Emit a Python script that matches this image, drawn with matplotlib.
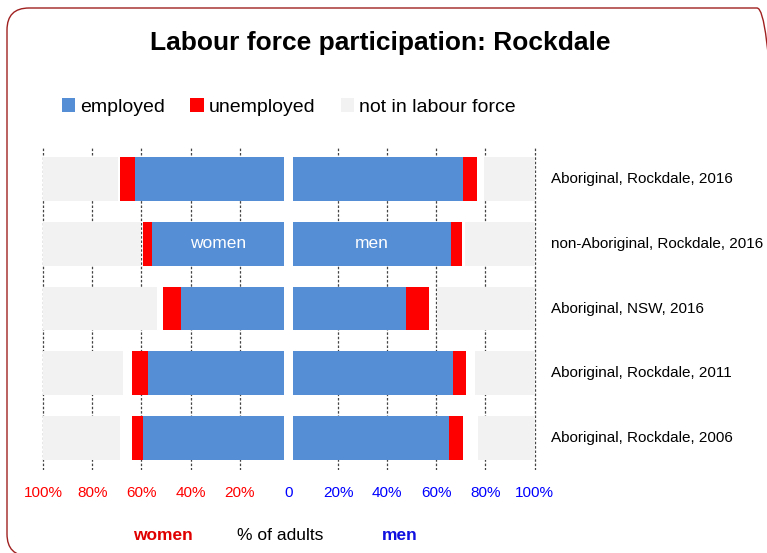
import matplotlib.pyplot as plt
from matplotlib.patches import FancyBboxPatch
from matplotlib.transforms import blended_transform_factory
import numpy as np

plt.rcParams['font.family'] = ['Liberation Sans', 'DejaVu Sans']

categories = ['Aboriginal, Rockdale, 2016', 'non-Aboriginal, Rockdale, 2016',
              'Aboriginal, NSW, 2016', 'Aboriginal, Rockdale, 2011',
              'Aboriginal, Rockdale, 2006']

# % of adults
women_employed = [60.7, 53.8, 42.2, 55.5, 57.5]
women_unemployed = [6.1, 3.6, 7.3, 6.5, 4.5]
women_not_in_lf = [30.4, 39.7, 46.4, 32.4, 31.2]
men_employed = [69.2, 64.0, 46.0, 65.2, 63.2]
men_unemployed = [5.7, 4.5, 9.4, 5.3, 5.7]
men_not_in_lf = [20.6, 28.3, 39.8, 24.3, 23.1]

tick_values = [-100, -80, -60, -40, -20, 0, 20, 40, 60, 80, 100]
tick_labels = ['100%', '80%', '60%', '40%', '20%', '0', '20%', '40%', '60%', '80%', '100%']

BLUE = '#558ED5'
RED = '#FF0000'
GREY = '#F2F2F2'
GAP = 1.8  # gap in the middle

fig = plt.figure(figsize=(7.67, 5.53), dpi=100)
ax = fig.add_axes([42 / 767, 1 - 470 / 553, (537 - 42) / 767, (470 - 147) / 553])

y = np.arange(len(categories))
h = 0.68

we = np.array(women_employed)
wu = np.array(women_unemployed)
wn = np.array(women_not_in_lf)
me = np.array(men_employed)
mu = np.array(men_unemployed)
mn = np.array(men_not_in_lf)

# women to the left
ax.barh(y, -we, left=-GAP, height=h, color=BLUE, zorder=2)
ax.barh(y, -wu, left=-GAP - we, height=h, color=RED, zorder=2)
ax.barh(y, wn, left=-100, height=h, color=GREY, zorder=2)
# men to the right
ax.barh(y, me, left=GAP, height=h, color=BLUE, label='employed', zorder=2)
ax.barh(y, mu, left=GAP + me, height=h, color=RED, label='unemployed', zorder=2)
ax.barh(y, -mn, left=100, height=h, color=GREY, label='not in labour force', zorder=2)

for v in tick_values:
    if v != 0:
        ax.axvline(v, color='#444444', lw=0.9, ls=(0, (2, 1.5)), zorder=1)

ax.set_xlim(-100.5, 101)
ax.set_ylim(len(categories) - 0.5, -0.5)
ax.set_xticks([])
ax.set_yticks([])
for s in ax.spines.values():
    s.set_visible(False)

for v, lab in zip(tick_values, tick_labels):
    ax.text(v, -23 / 323, lab, transform=ax.get_xaxis_transform(),
            ha='center', va='center', fontsize=11,
            color='red' if v < 0 else 'blue')

row_tr = blended_transform_factory(fig.transFigure, ax.transData)
for yi, cat in zip(y, categories):
    ax.text(551 / 767, yi, cat, transform=row_tr, fontsize=11, va='center', ha='left')

ax.text(-GAP - we[1] / 2, 1, 'women', color='white', fontsize=12.5, ha='center', va='center', zorder=3)
ax.text(GAP + me[1] / 2, 1, 'men', color='white', fontsize=12.5, ha='center', va='center', zorder=3)

fig.text(380 / 767, 1 - 43 / 553, 'Labour force participation: Rockdale',
         fontsize=19, fontweight='bold', ha='center', va='center')

fig.legend(loc='center left', bbox_to_anchor=(54 / 767, 1 - 107 / 553), ncol=3,
           frameon=False, fontsize=14, handlelength=0.7, handleheight=0.7,
           handletextpad=0.25, columnspacing=1.3, borderaxespad=0)

fig.text(163 / 767, 1 - 535 / 553, 'women', color='#E00000', fontsize=12.5,
         fontweight='bold', ha='center', va='center')
fig.text(280 / 767, 1 - 535 / 553, '% of adults', color='black', fontsize=12.5,
         ha='center', va='center')
fig.text(400 / 767, 1 - 535 / 553, 'men', color='#1010E0', fontsize=12.5,
         fontweight='bold', ha='center', va='center')

# rounded border, in inches; right edge falls just outside the picture
border = FancyBboxPatch((0.07, -0.03), 7.72, 5.53 + 0.03 - 0.08,
                        boxstyle='round,pad=0,rounding_size=0.22',
                        transform=fig.dpi_scale_trans, fill=False,
                        edgecolor='#A02020', lw=1.0, clip_on=False)
fig.patches.append(border)

fig.savefig('out.png', dpi=100)
